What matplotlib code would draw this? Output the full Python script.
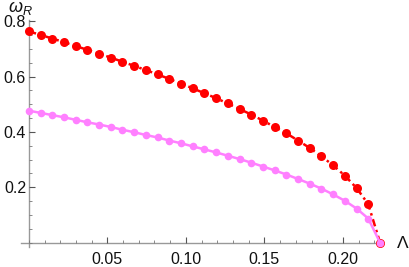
import matplotlib
matplotlib.use("Agg")
import matplotlib.pyplot as plt
from matplotlib.ticker import MultipleLocator

plt.rcParams['font.family'] = ['Liberation Sans', 'DejaVu Sans']
plt.rcParams['mathtext.fontset'] = 'custom'
plt.rcParams['mathtext.it'] = 'Liberation Sans:italic'
plt.rcParams['mathtext.rm'] = 'Liberation Sans'

lam = [0.0, 0.00745, 0.0149, 0.02236, 0.0298, 0.03727, 0.0447, 0.0522, 0.0596, 0.0671,
       0.0745, 0.0820, 0.0894, 0.0969, 0.1043, 0.1118, 0.1193, 0.1267, 0.1342, 0.1416,
       0.1491, 0.1565, 0.1640, 0.1714, 0.1789, 0.1863, 0.1938, 0.2012, 0.2087, 0.2161, 0.2236]
omega_red = [0.764, 0.751, 0.738, 0.725, 0.711, 0.697, 0.683, 0.669, 0.654, 0.639,
             0.624, 0.608, 0.592, 0.575, 0.558, 0.540, 0.522, 0.503, 0.483, 0.463,
             0.441, 0.418, 0.395, 0.369, 0.342, 0.312, 0.279, 0.242, 0.197, 0.139, 0.0]
omega_pink = [0.477, 0.469, 0.461, 0.453, 0.444, 0.435, 0.427, 0.418, 0.408, 0.399,
              0.389, 0.380, 0.369, 0.359, 0.348, 0.337, 0.326, 0.314, 0.302, 0.289,
              0.275, 0.261, 0.246, 0.230, 0.213, 0.195, 0.174, 0.151, 0.123, 0.087, 0.0]
xticks = [0.05, 0.10, 0.15, 0.20]
xticklabels = ['0.05', '0.10', '0.15', '0.20']
yticks = [0.2, 0.4, 0.6, 0.8]
yticklabels = ['0.2', '0.4', '0.6', '0.8']

fig = plt.figure(figsize=(4.09, 2.67), dpi=100)
ax = fig.add_axes([21/409, 20.3/267, 362/409, 226.7/267])
ax.set_xlim(-0.005, 0.2255)
ax.set_ylim(-0.015, 0.805)

ax.plot(lam, omega_red, color='#ff0000', lw=1.8, linestyle=(0, (3, 1.5, 1, 1.5)),
        marker='o', ms=6.5, mew=0, zorder=3, clip_on=False)
ax.plot(lam, omega_pink, color='#ff80ff', lw=1.8, linestyle='-',
        marker='o', ms=5.5, mew=0, zorder=4, clip_on=False)

for s in ['top', 'right']:
    ax.spines[s].set_visible(False)
ax.spines['left'].set_position(('data', 0))
ax.spines['bottom'].set_position(('data', 0))
axis_col = '#999999'
for s in ['left', 'bottom']:
    ax.spines[s].set_color(axis_col)
    ax.spines[s].set_linewidth(1.0)
    ax.spines[s].set_zorder(1)

ax.set_xticks(xticks)
ax.set_xticklabels(xticklabels)
ax.set_yticks(yticks)
ax.set_yticklabels(yticklabels)
ax.xaxis.set_minor_locator(MultipleLocator(0.01))
ax.yaxis.set_minor_locator(MultipleLocator(0.05))
ax.tick_params(axis='both', which='major', direction='in', length=4, width=0.8,
               color='#555555', labelsize=11.5, labelcolor='#111111')
ax.tick_params(axis='both', which='minor', direction='in', length=2.2, width=0.6,
               color='#777777')
ax.tick_params(axis='x', which='major', pad=7)
ax.tick_params(axis='y', which='major', pad=2)

fig.text(8/409, 1 - 8/267, r'$\omega_R$', fontsize=13, ha='left', va='center', color='#111111')
fig.text(397/409, 1 - 244/267, 'Λ', fontsize=12.5, ha='left', va='center', color='#111111')

fig.savefig('out.png', dpi=100)
